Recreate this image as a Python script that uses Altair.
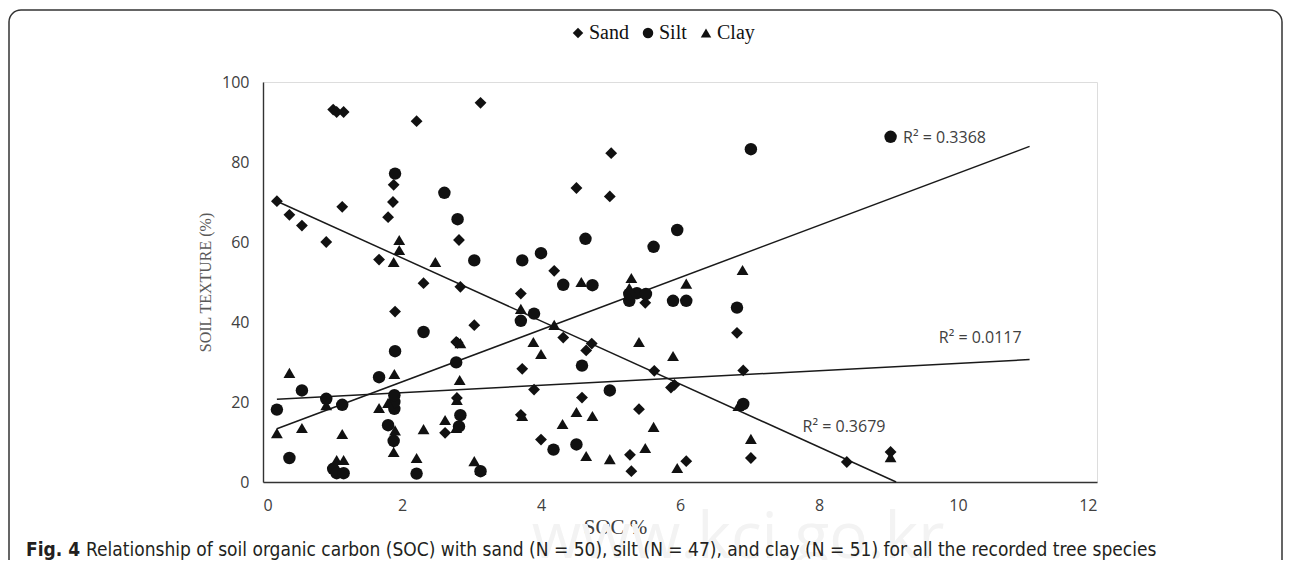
import altair as alt
import pandas as pd

# ---- data ----
sand_soc = [0.2, 0.38, 0.56, 0.91, 1.01, 1.06, 1.16, 1.14, 1.67, 1.80, 1.87, 1.88, 1.90, 1.88,
            2.21, 2.31, 2.62, 2.78, 2.79, 2.82, 2.84, 3.04, 3.13, 3.71, 3.73, 3.71, 3.90, 4.00,
            4.19, 4.32, 4.51, 4.59, 4.65, 4.73, 4.99, 5.01, 5.28, 5.30, 5.41, 5.50, 5.63, 5.87,
            5.92, 6.09, 6.82, 6.91, 7.02, 8.40, 9.03, 2.80]
sand_val = [70.2, 66.8, 64.1, 60.0, 93.1, 92.5, 92.5, 68.8, 55.6, 66.2, 70.0, 74.3, 42.6, 10.0,
            90.2, 49.7, 12.3, 35.0, 21.0, 60.5, 48.8, 39.2, 94.8, 47.1, 28.3, 16.8, 23.1, 10.6,
            52.8, 36.1, 73.5, 21.1, 32.9, 34.6, 71.4, 82.2, 6.8, 2.7, 18.2, 44.8, 27.8, 23.6,
            24.3, 5.2, 37.3, 27.9, 6.0, 5.0, 7.5, 34.8]

silt_soc = [0.2, 0.38, 0.56, 0.91, 1.01, 1.06, 1.16, 1.14, 1.67, 1.80, 1.88, 1.89, 1.89, 1.89,
            1.90, 1.90, 2.21, 2.31, 2.61, 2.78, 2.80, 2.82, 2.84, 3.04, 3.13, 3.71, 3.73, 3.90,
            4.00, 4.18, 4.32, 4.51, 4.59, 4.64, 4.74, 4.99, 5.27, 5.27, 5.38, 5.51, 5.62, 5.90,
            5.96, 6.09, 6.82, 6.91, 7.02, 9.03]
silt_val = [18.1, 6.0, 22.9, 20.8, 3.3, 2.2, 2.2, 19.3, 26.2, 14.2, 10.3, 18.3, 20.0, 21.7,
            32.7, 77.1, 2.1, 37.5, 72.3, 29.9, 65.7, 13.9, 16.7, 55.4, 2.7, 40.3, 55.4, 42.1,
            57.2, 8.1, 49.3, 9.4, 29.1, 60.8, 49.2, 22.9, 45.3, 47.0, 47.2, 47.0, 58.8, 45.3,
            63.0, 45.3, 43.6, 19.5, 83.2, 86.3]

clay_soc = [0.2, 0.38, 0.56, 0.91, 1.06, 1.16, 1.14, 1.67, 1.80, 1.88, 1.88, 1.89, 1.90, 1.96,
            1.96, 2.21, 2.31, 2.48, 2.62, 2.78, 2.79, 2.83, 2.84, 3.04, 3.13, 3.71, 3.73, 3.89,
            4.00, 4.19, 4.31, 4.51, 4.58, 4.65, 4.74, 4.99, 5.30, 5.27, 5.41, 5.50, 5.62, 5.90,
            5.96, 6.09, 6.84, 6.90, 7.02, 9.03]
clay_val = [12.2, 27.3, 13.5, 19.2, 5.5, 5.5, 12.0, 18.5, 19.8, 7.5, 55.0, 27.0, 12.9, 60.5,
            58.0, 6.0, 13.2, 55.0, 15.5, 13.5, 20.5, 25.5, 34.7, 5.2, 3.0, 43.3, 16.5, 35.0,
            32.0, 39.3, 14.5, 17.5, 50.0, 6.5, 16.5, 5.7, 51.0, 48.5, 35.0, 8.5, 13.8, 31.5,
            3.5, 49.6, 19.0, 53.0, 10.8, 6.2]

categories = ["Sand", "Silt", "Clay"]
shapes = ["diamond", "circle", "triangle-up"]
marker_sizes = [140, 155, 140]

# trend line end points
trend_name = ["Sand", "Sand", "Silt", "Silt", "Clay", "Clay"]
trend_soc = [0.2, 9.11, 0.2, 11.03, 0.2, 11.03]
trend_val = [70.2, 0.0, 13.3, 83.9, 20.7, 30.6]

r2_text = ["R² = 0.3368", "R² = 0.0117", "R² = 0.3679"]
r2_soc = [9.21, 10.32, 8.36]
r2_val = [85.9, 35.9, 13.7]
r2_align = ["left", "center", "center"]

x_ticks = [0, 2, 4, 6, 8, 10, 12]
y_ticks = [0, 10, 20, 30, 40, 50, 60, 70, 80, 90, 100]

caption_bold = "Fig. 4"
caption_rest = ("Relationship of soil organic carbon (SOC) with sand (N = 50), silt (N = 47), "
                "and clay (N = 51) for all the recorded tree species")
watermark = "www.kci.go.kr"

# ---- tables ----
series = {
    "Sand": (sand_soc, sand_val),
    "Silt": (silt_soc, silt_val),
    "Clay": (clay_soc, clay_val),
}
trend = pd.DataFrame({"name": trend_name, "soc": trend_soc, "val": trend_val})
r2 = pd.DataFrame({"t": r2_text, "soc": r2_soc, "val": r2_val, "a": r2_align})

SANS = "Open Sans"
SERIF = "Liberation Serif"
CAP = "DejaVu Sans Condensed"

xs = alt.Scale(domain=[0, 12], nice=False, zero=False)
ys = alt.Scale(domain=[0, 100], nice=False)
shape_scale = alt.Scale(domain=categories, range=shapes)

x_axis = alt.Axis(values=x_ticks, format="d", grid=False, ticks=False, labelOverlap=False,
                  domainColor="#333333", domainWidth=1.4,
                  labelFont=SANS, labelFontSize=16, labelColor="#404040", labelPadding=15,
                  title="SOC %", titleFont=SERIF, titleFontSize=21, titleFontWeight="normal",
                  titleColor="#404040", titleX=352, titleY=45, titleBaseline="middle",
                  titleAlign="center")
y_axis = alt.Axis(values=y_ticks, format="d", grid=False, ticks=False, labelOverlap=False,
                  domainColor="#333333", domainWidth=1.4,
                  labelFont=SANS, labelFontSize=16, labelColor="#404040", labelPadding=14,
                  title="SOIL TEXTURE (%)", titleFont=SERIF, titleFontSize=16,
                  titleFontWeight="normal", titleColor="#595959", titlePadding=8)

legend = alt.Legend(title=None, orient="none", legendX=305, legendY=-59,
                    direction="horizontal", labelFont=SERIF, labelFontSize=20,
                    labelColor="#111111", symbolSize=110, symbolFillColor="#111111",
                    symbolStrokeWidth=0, labelOffset=1, columnPadding=9, padding=0)

frame = alt.Chart(pd.DataFrame({"k": [0]})).mark_rect(
    fill=None, stroke="#333333", strokeWidth=1.5, cornerRadius=12
).encode(x=alt.value(-254), x2=alt.value(1019), y=alt.value(-72), y2=alt.value(620))

wm = alt.Chart(pd.DataFrame({"t": [watermark]})).mark_text(
    font=SANS, fontSize=64, color="#f3f3f3", align="center", baseline="alphabetic"
).encode(text="t:N", x=alt.value(475), y=alt.value(476))

lines = alt.Chart(trend).mark_line(color="#1a1a1a", strokeWidth=1.5).encode(
    x=alt.X("soc:Q", scale=xs, axis=x_axis),
    y=alt.Y("val:Q", scale=ys, axis=y_axis),
    detail="name:N",
)

point_layers = []
for name, sz in zip(categories, marker_sizes):
    s, v = series[name]
    df = pd.DataFrame({"soc": s, "val": v, "type": name})
    point_layers.append(
        alt.Chart(df).mark_point(filled=True, color="#111111", opacity=1, size=sz).encode(
            x=alt.X("soc:Q", scale=xs),
            y=alt.Y("val:Q", scale=ys),
            shape=alt.Shape("type:N", scale=shape_scale, legend=legend),
        )
    )

r2_left = alt.Chart(r2[r2["a"] == "left"]).mark_text(
    font=SANS, fontSize=16, color="#404040", align="left", baseline="middle"
).encode(x=alt.X("soc:Q", scale=xs), y=alt.Y("val:Q", scale=ys), text="t:N")
r2_center = alt.Chart(r2[r2["a"] == "center"]).mark_text(
    font=SANS, fontSize=16, color="#404040", align="center", baseline="middle"
).encode(x=alt.X("soc:Q", scale=xs), y=alt.Y("val:Q", scale=ys), text="t:N")

cap1 = alt.Chart(pd.DataFrame({"t": [caption_bold]})).mark_text(
    font=CAP, fontSize=19, fontWeight="bold", color="#231f20", align="left", baseline="middle"
).encode(text="t:N", x=alt.value(-237), y=alt.value(468))
cap2 = alt.Chart(pd.DataFrame({"t": [caption_rest]})).mark_text(
    font=CAP, fontSize=19, color="#231f20", align="left", baseline="middle"
).encode(text="t:N", x=alt.value(-177), y=alt.value(468))

chart = alt.layer(frame, wm, lines, *point_layers, r2_left, r2_center, cap1, cap2).properties(
    width=834, height=400,
    autosize=alt.AutoSizeParams(type="none"),
    padding={"left": 255, "top": 74, "right": 187, "bottom": 78},
).configure_view(stroke=None).configure(background="white")

chart.save("out.html", embed_options={"renderer": "svg", "actions": False})
